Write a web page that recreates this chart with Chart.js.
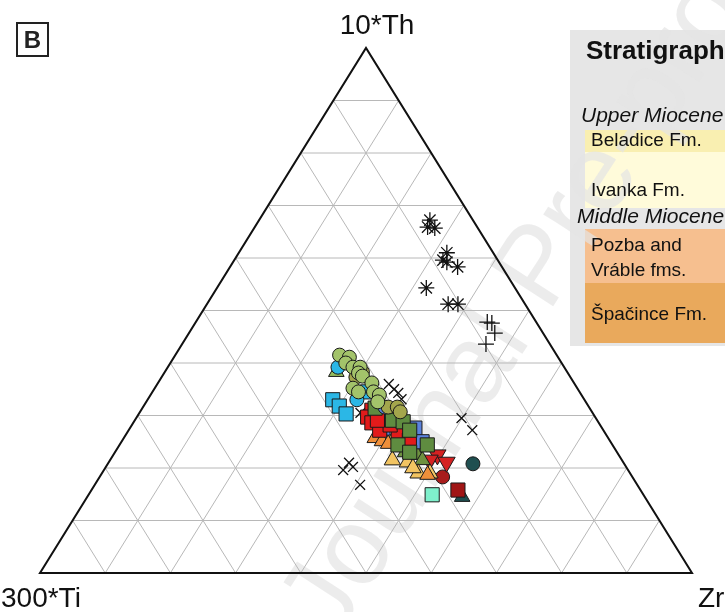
<!DOCTYPE html>
<html>
<head>
<meta charset="utf-8">
<script src="https://cdn.jsdelivr.net/npm/chart.js@4.4.0/dist/chart.umd.min.js"></script>
<style>
  body { margin: 0; background: #fff; }
  #wrap { width: 725px; height: 612px; position: relative; }
</style>
</head>
<body>
<div id="wrap"><canvas id="ternary"></canvas></div>
<script>
// corner labels: left, right, top
const cornerLabels = ['300*Ti', 'Zr', '10*Th'];
const gridSteps = [10, 20, 30, 40, 50, 60, 70, 80, 90];

// legend rows (stratigraphy)
const legendTitle = 'Stratigraphy';
const epochNames = ['Upper Miocene', 'Middle Miocene'];
const formationNames = [['Beladice Fm.'], ['Ivanka Fm.'], ['Pozba and', 'Vráble fms.'], ['Špačince Fm.']];
const formationColors = ['#f9efb1', '#fffbda', '#f6bf8f', '#e9a95c'];

// samples, each point is [Ti, Zr, Th] in percent
const asteriskPts = [[6.6, 26.2, 67.2], [7.6, 26.5, 65.9], [6.6, 27.7, 65.7], [7.1, 31.9, 61.0], [8.4, 32.0, 59.6],
  [8.0, 32.8, 59.2], [6.8, 34.9, 58.3], [13.6, 32.1, 54.3], [11.8, 37.0, 51.2], [10.3, 38.5, 51.2]];
const plusPts = [[7.5, 44.7, 47.8], [6.9, 45.5, 47.6], [7.4, 46.9, 45.7], [9.8, 46.6, 43.6]];
const crossPts = [[28.5, 35.5, 36.0], [28.2, 36.8, 35.0], [27.9, 37.8, 34.3], [28.0, 38.9, 33.1], [35.6, 33.9, 30.5],
  [20.6, 49.9, 29.5], [20.1, 52.7, 27.2], [43.7, 36.7, 19.6], [42.1, 36.9, 21.0], [41.9, 37.9, 20.2], [42.5, 40.7, 16.8]];

const greenCircles = [[33.3, 25.2, 41.5], [32.0, 26.9, 41.1], [33.1, 26.9, 40.0], [32.4, 28.4, 39.2], [31.3, 29.5, 39.2],
  [32.1, 29.8, 38.1], [31.8, 30.7, 37.5], [31.0, 32.8, 36.2], [34.4, 30.4, 35.2], [33.9, 31.6, 34.5],
  [31.6, 33.9, 34.5], [31.0, 35.1, 33.9], [31.9, 35.5, 32.6]];
const oliveCircles = [[32.9, 29.8, 37.3], [31.4, 30.3, 38.3], [30.8, 37.6, 31.6], [29.4, 39.0, 31.6], [29.4, 39.9, 30.7]];
const cyanCircles = [[34.7, 26.1, 39.2], [34.9, 32.1, 33.0]];
const blueCircles = [[31.3, 37.1, 31.6]];
const darkTealCircles = [[23.2, 56.0, 20.8]];
const darkRedCircles = [[29.1, 52.6, 18.3]];

const cyanSquares = [[38.6, 28.4, 33.0], [38.2, 30.0, 31.8], [37.9, 31.8, 30.3], [32.5, 33.0, 34.5]];
const redSquares = [[33.6, 35.4, 31.0], [34.9, 35.4, 29.7], [34.8, 36.6, 28.6], [34.3, 38.5, 27.2], [31.7, 41.6, 26.7],
  [30.7, 44.0, 25.3], [32.2, 39.6, 28.2], [33.7, 37.2, 29.1]];
const blueSquares = [[32.9, 38.0, 29.1], [33.6, 38.8, 27.6], [28.7, 43.7, 27.6], [28.9, 46.1, 25.0], [30.1, 40.4, 29.5]];
const darkGreenSquares = [[32.9, 35.7, 31.4], [31.4, 39.5, 29.1], [29.9, 41.3, 28.8], [29.7, 43.1, 27.2],
  [28.4, 47.2, 24.4], [32.9, 42.7, 24.4], [31.8, 45.2, 23.0]];
const aquaSquares = [[32.4, 52.7, 14.9]];
const darkRedSquares = [[28.0, 56.2, 15.8]];

const greenTriangles = [[35.4, 26.3, 38.3]];
const orangeTriangles = [[35.8, 38.5, 25.7], [35.0, 39.9, 25.1], [34.3, 41.1, 24.6], [31.2, 50.1, 18.7]];
const yellowTriangles = [[33.5, 41.5, 25.0], [35.2, 43.3, 21.5], [33.1, 45.8, 21.1], [32.5, 48.5, 19.0],
  [30.7, 50.3, 19.0], [32.8, 47.2, 20.0]];
const oliveTriangles = [[30.9, 46.6, 22.5], [32.5, 44.5, 23.0], [30.6, 47.9, 21.5], [32.2, 42.5, 25.3]];
const redDownTriangles = [[27.8, 49.7, 22.5], [27.1, 51.8, 21.1], [29.5, 49.0, 21.5]];
const darkTealTriangles = [[28.0, 57.5, 14.5]];

const FONT = '"Liberation Sans", Arial, sans-serif';

// ternary [Ti, Zr, Th] -> plot units (x along base, y = Th)
function toXY(p) {
  return { x: p[1] + p[2] / 2, y: p[2] };
}

function series(pts, pointStyle, fill, radius, opts) {
  return Object.assign({
    data: pts.map(toXY),
    pointStyle: pointStyle,
    backgroundColor: fill,
    borderColor: '#1a1a1a',
    borderWidth: 1,
    pointRadius: radius
  }, opts || {});
}

const ternaryFrame = {
  id: 'ternaryFrame',
  beforeDraw(chart) {
    const ctx = chart.ctx;
    ctx.save();
    ctx.fillStyle = '#fff';
    ctx.fillRect(0, 0, chart.width, chart.height);

    // legend panel and formation rows
    ctx.fillStyle = '#e6e6e6';
    ctx.fillRect(570, 30, 160, 316);
    const rows = [[130, 22], [152, 56], [229, 54], [283, 60]];
    rows.forEach((r, i) => {
      ctx.fillStyle = formationColors[i];
      ctx.fillRect(585, r[0], 145, r[1]);
    });

    // watermark
    ctx.translate(335, 642);
    ctx.rotate(-57 * Math.PI / 180);
    ctx.fillStyle = 'rgba(228,228,228,0.7)';
    ctx.font = '110px ' + FONT;
    ctx.textBaseline = 'alphabetic';
    ctx.fillText('Journal Pre-proof', 0, 0);
    ctx.restore();
  },
  beforeDatasetsDraw(chart) {
    const { ctx, scales: { x, y } } = chart;
    const px = (p) => [x.getPixelForValue(p[1] + p[2] / 2), y.getPixelForValue(p[2])];
    const seg = (a, b) => {
      const A = px(a), B = px(b);
      ctx.moveTo(A[0], A[1]);
      ctx.lineTo(B[0], B[1]);
    };
    ctx.save();
    ctx.strokeStyle = '#b8b8b8';
    ctx.lineWidth = 1;
    ctx.beginPath();
    gridSteps.forEach(k => {
      seg([100 - k, 0, k], [0, 100 - k, k]);
      seg([100 - k, k, 0], [0, k, 100 - k]);
      seg([k, 100 - k, 0], [k, 0, 100 - k]);
    });
    ctx.stroke();

    // outer triangle
    ctx.strokeStyle = '#111';
    ctx.lineWidth = 2;
    ctx.beginPath();
    const L = px([100, 0, 0]), R = px([0, 100, 0]), T = px([0, 0, 100]);
    ctx.moveTo(L[0], L[1]);
    ctx.lineTo(R[0], R[1]);
    ctx.lineTo(T[0], T[1]);
    ctx.closePath();
    ctx.stroke();

    // corner labels
    ctx.fillStyle = '#111';
    ctx.font = '28px ' + FONT;
    ctx.textBaseline = 'alphabetic';
    ctx.textAlign = 'left';
    ctx.fillText(cornerLabels[0], 1, 607);
    ctx.fillText(cornerLabels[1], 698, 607);
    ctx.textAlign = 'center';
    ctx.fillText(cornerLabels[2], 377, 34);

    // panel letter
    ctx.lineWidth = 2;
    ctx.strokeStyle = '#222';
    ctx.strokeRect(17, 23, 31, 33);
    ctx.font = 'bold 24px ' + FONT;
    ctx.fillStyle = '#222';
    ctx.fillText('B', 32.5, 48);

    // legend text
    ctx.textAlign = 'left';
    ctx.fillStyle = '#111';
    ctx.font = 'bold 26px ' + FONT;
    ctx.fillText(legendTitle, 586, 59);
    ctx.font = 'italic 21px ' + FONT;
    ctx.fillText(epochNames[0], 581, 122);
    ctx.fillText(epochNames[1], 577, 223);
    ctx.font = '19px ' + FONT;
    const textY = [[146], [196], [251, 276], [320]];
    formationNames.forEach((lines, i) => {
      lines.forEach((t, j) => ctx.fillText(t, 591, textY[i][j]));
    });
    ctx.restore();
  }
};

const starStyle = { borderColor: '#111', borderWidth: 1.3, backgroundColor: 'transparent' };

new Chart(document.getElementById('ternary'), {
  type: 'scatter',
  data: {
    datasets: [
      series(greenCircles, 'circle', '#a3c36a', 7),
      series(oliveCircles, 'circle', '#a3a64c', 7),
      series(cyanCircles, 'circle', '#2bb7e6', 7),
      series(blueCircles, 'circle', '#5b82dc', 7),
      series(greenTriangles, 'triangle', '#94bd5e', 9),
      series(cyanSquares, 'rect', '#2bb7e6', 10),
      series(darkGreenSquares, 'rect', '#5f8c40', 10),
      series(redSquares, 'rect', '#e21b1b', 10),
      series(blueSquares, 'rect', '#5b82dc', 10),
      series(orangeTriangles, 'triangle', '#ef8f3a', 9),
      series(yellowTriangles, 'triangle', '#f2c462', 9.5),
      series(oliveTriangles, 'triangle', '#6e9140', 9),
      series(redDownTriangles, 'triangle', '#d42222', 10, { rotation: 180 }),
      series(darkTealCircles, 'circle', '#1f4f50', 7),
      series(darkRedCircles, 'circle', '#a81c1c', 7),
      series(aquaSquares, 'rect', '#7ff0cc', 10),
      series(darkRedSquares, 'rect', '#a01515', 10),
      series(darkTealTriangles, 'triangle', '#1f4f50', 9),
      series(crossPts, 'crossRot', 'transparent', 7, starStyle),
      series(plusPts, 'cross', 'transparent', 8, starStyle),
      series(asteriskPts, 'star', 'transparent', 8, starStyle)
    ]
  },
  options: {
    responsive: true,
    maintainAspectRatio: false,
    animation: false,
    events: [],
    layout: { padding: { left: 40, right: 33, top: 48, bottom: 39 } },
    scales: {
      x: { type: 'linear', min: 0, max: 100, display: false },
      y: { type: 'linear', min: 0, max: 100, display: false }
    },
    plugins: {
      legend: { display: false },
      tooltip: { enabled: false }
    }
  },
  plugins: [ternaryFrame]
});
</script>
</body>
</html>
